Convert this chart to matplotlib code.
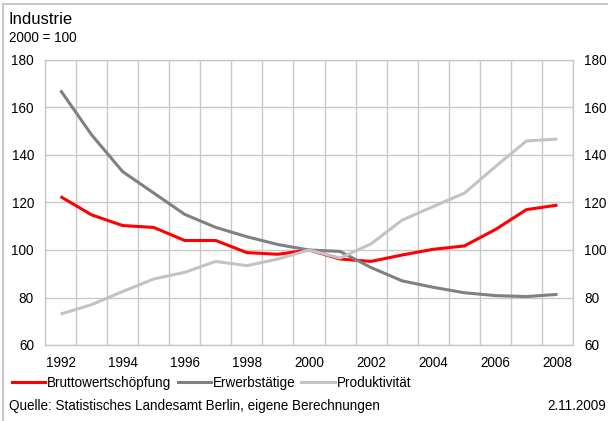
import matplotlib
matplotlib.use("Agg")

import matplotlib.pyplot as plt
from matplotlib.lines import Line2D
from matplotlib.ticker import FixedLocator, NullFormatter

plt.rcParams["font.family"] = ["Liberation Sans", "DejaVu Sans"]

# ── data (2000 = 100) ─────────────────────────────────────────────────────────
years = list(range(1992, 2009))
brutto = [122.5, 114.8, 110.3, 109.5, 104.0, 104.0, 98.9, 98.2, 100.0,
          96.2, 95.2, 97.9, 100.3, 101.7, 108.6, 117.0, 118.9]
erwerb = [167.2, 148.5, 133.0, 124.0, 115.0, 109.5, 105.6, 102.3, 100.0,
          99.4, 92.6, 87.0, 84.3, 82.0, 80.8, 80.4, 81.3]
produkt = [73.0, 77.0, 82.5, 87.8, 90.6, 95.2, 93.4, 96.2, 100.0,
           96.6, 102.6, 112.6, 118.3, 123.9, 135.1, 145.9, 146.7]

series_labels = ["Bruttowertschöpfung", "Erwerbstätige", "Produktivität"]
series_colors = ["#ff0000", "#808080", "#c3c3c3"]

GRID = "#c8c8c8"
FS = 9.75

fig = plt.figure(figsize=(6.08, 4.21), dpi=100)
ax = fig.add_axes([45 / 608, 1 - 345 / 421, 528 / 608, 285 / 421])

x = list(range(len(years)))
for vals, lab, col in zip([brutto, erwerb, produkt], series_labels, series_colors):
    ax.plot(x, vals, color=col, lw=2.2, label=lab, solid_capstyle="butt", zorder=3)

ax.set_xlim(-0.5, len(years) - 0.5)
ax.set_ylim(60, 180)

# vertical grid at band edges, labels on even years
ax.xaxis.set_minor_locator(FixedLocator([i - 0.5 for i in range(len(years) + 1)]))
ax.xaxis.set_minor_formatter(NullFormatter())
ax.set_xticks(x[::2])
ax.set_xticklabels([str(y) for y in years[::2]])
ax.set_yticks(range(60, 181, 20))
ax.grid(which="minor", axis="x", color=GRID, lw=1)
ax.grid(which="major", axis="y", color=GRID, lw=1)
ax.set_axisbelow(True)

ax.tick_params(which="both", length=0, labelsize=FS, colors="black")
ax.tick_params(axis="x", pad=8)
ax.tick_params(axis="y", pad=8, labelright=True, right=False)

for sp in ax.spines.values():
    sp.set_color(GRID)
    sp.set_linewidth(1)

# ── texts ─────────────────────────────────────────────────────────────────────
fig.text(9 / 608, 1 - 20 / 421, "Industrie", fontsize=12, va="center", ha="left")
fig.text(9 / 608, 1 - 38 / 421, "2000 = 100", fontsize=FS, va="center", ha="left")
fig.text(9 / 608, 1 - 406 / 421, "Quelle: Statistisches Landesamt Berlin, eigene Berechnungen",
         fontsize=FS, va="center", ha="left")
fig.text(606 / 608, 1 - 406 / 421, "2.11.2009", fontsize=FS, va="center", ha="right")

# ── legend ────────────────────────────────────────────────────────────────────
handles = [Line2D([0], [0], color=c, lw=2.2) for c in series_colors]
fig.legend(handles, series_labels, loc="center left",
           bbox_to_anchor=(12 / 608, 1 - 383 / 421), ncol=3, frameon=False,
           fontsize=FS, handlelength=2.45, handletextpad=0.15, columnspacing=0.45,
           borderaxespad=0, borderpad=0)

# ── outer frame (top and left only) ──────────────────────────────────────────
fig.add_artist(Line2D([3 / 608, 1], [1 - 4 / 421, 1 - 4 / 421], color=GRID, lw=1.5,
                      transform=fig.transFigure))
fig.add_artist(Line2D([3 / 608, 3 / 608], [0, 1 - 4 / 421], color=GRID, lw=1.5,
                      transform=fig.transFigure))

fig.savefig("out.png", dpi=100)
